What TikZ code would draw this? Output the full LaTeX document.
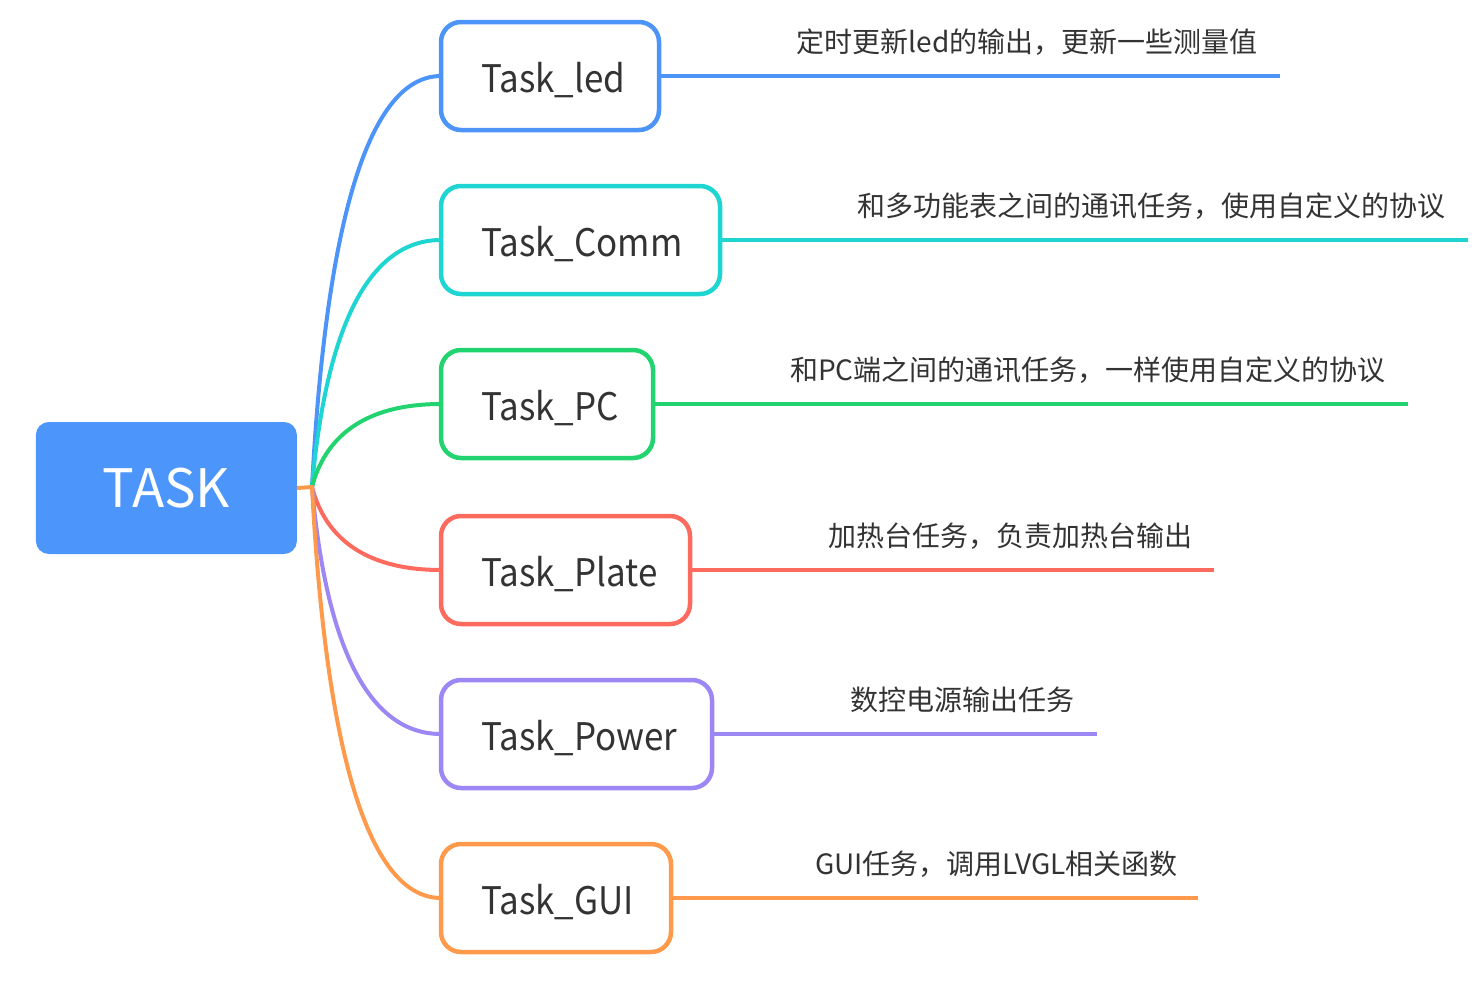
\documentclass[tikz,border=0pt]{standalone}
\usepackage{fontspec}
\setmainfont{Noto Sans CJK SC}
\newfontfamily\boxfont[FakeStretch=0.92]{Noto Sans CJK SC}
\definecolor{croot}{HTML}{4C95FB}
\definecolor{cblue}{HTML}{4D94F8}
\definecolor{cteal}{HTML}{1ED5D2}
\definecolor{cgreen}{HTML}{21D46F}
\definecolor{cred}{HTML}{FD6B5E}
\definecolor{cpurple}{HTML}{9C87F5}
\definecolor{corange}{HTML}{FF9A4C}
\definecolor{txt}{HTML}{333333}
\begin{document}
\begin{tikzpicture}[x=1pt,y=-1pt,
  box/.style={draw=#1, line width=4.5pt, rounded corners=20pt, fill=white, minimum height=108pt, inner sep=0pt, outer sep=0pt},
  boxtext/.style={anchor=base west, text=txt, font=\boxfont\fontsize{38}{46}\selectfont, inner sep=0pt},
  lab/.style={anchor=base east, text=txt, font=\fontsize{28}{32}\selectfont, inner sep=0pt},
  conn/.style={draw=#1, line width=4pt, line cap=round},
]
\useasboundingbox (0,0) rectangle (1484,988);
% root
\node[fill=croot, rounded corners=13pt, minimum width=261pt, minimum height=132pt, inner sep=0pt, outer sep=0pt,
  text=white, font=\fontsize{53}{60}\selectfont, text height=38pt, text depth=0pt] (root) at (166.4,488) {TASK};
\coordinate (o) at (312,487);
% child boxes
\node[box=cblue,   minimum width=218pt] (b1) at (550,76) {};
\node[box=cteal,   minimum width=279pt] (b2) at (580.5,240) {};
\node[box=cgreen,  minimum width=212pt] (b3) at (547,404) {};
\node[box=cred,    minimum width=249pt] (b4) at (565.5,570) {};
\node[box=cpurple, minimum width=271pt] (b5) at (576.5,734) {};
\node[box=corange, minimum width=230pt] (b6) at (556,898) {};
% box texts
\node[boxtext] (t1) at (481,92) {Task\_led};
\node[boxtext] (t2) at (481,256) {Task\_Comm};
\node[boxtext] (t3) at (481,420) {Task\_PC};
\node[boxtext] (t4) at (481,586) {Task\_Plate};
\node[boxtext] (t5) at (481,750) {Task\_Power};
\node[boxtext] (t6) at (481,914) {Task\_GUI};
% connectors root -> children
\draw[conn=cblue]   (o) .. controls (325,240.4) and (364,76) .. (b1.west);
\draw[conn=cteal]   (o) .. controls (325,338.8) and (364,240) .. (b2.west);
\draw[conn=cgreen]  (o) .. controls (325,437.2) and (364,404) .. (b3.west);
\draw[conn=cred]    (o) .. controls (325,536.8) and (364,570) .. (b4.west);
\draw[conn=cpurple] (o) .. controls (325,635.2) and (364,734) .. (b5.west);
\draw[conn=corange] (o) .. controls (325,733.6) and (364,898) .. (b6.west);
\draw[conn=corange, line cap=butt] (root.east) -- (o);
% right lines
\coordinate (e1) at (1280,76);
\coordinate (e2) at (1468,240);
\coordinate (e3) at (1408,404);
\coordinate (e4) at (1214,570);
\coordinate (e5) at (1097,734);
\coordinate (e6) at (1198,898);
\draw[conn=cblue, line cap=butt]   (b1.east) -- (e1);
\draw[conn=cteal, line cap=butt]   (b2.east) -- (e2);
\draw[conn=cgreen, line cap=butt]  (b3.east) -- (e3);
\draw[conn=cred, line cap=butt]    (b4.east) -- (e4);
\draw[conn=cpurple, line cap=butt] (b5.east) -- (e5);
\draw[conn=corange, line cap=butt] (b6.east) -- (e6);
% labels
\node[lab] (l1) at (1258,52) {定时更新led的输出，更新一些测量值};
\node[lab] (l2) at (1446,216) {和多功能表之间的通讯任务，使用自定义的协议};
\node[lab] (l3) at (1386,380) {和PC端之间的通讯任务，一样使用自定义的协议};
\node[lab] (l4) at (1193,546) {加热台任务，负责加热台输出};
\node[lab] (l5) at (1075,710) {数控电源输出任务};
\node[lab] (l6) at (1178,874) {GUI任务，调用LVGL相关函数};
\end{tikzpicture}
\end{document}
